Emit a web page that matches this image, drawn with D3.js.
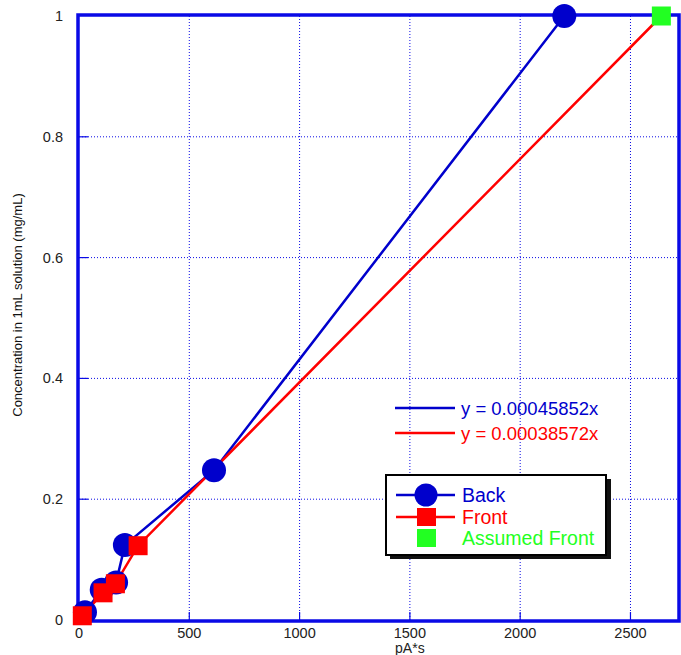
<!DOCTYPE html>
<html>
<head>
<meta charset="utf-8">
<script src="https://cdn.jsdelivr.net/npm/d3@7"></script>
<style>
  body { margin: 0; background: #fff; }
  svg { font-family: "Liberation Sans", Arial, sans-serif; }
</style>
</head>
<body>
<div class="container"></div>
<script>
const width = 681,
    height = 655;

// data
const backX = [2200, 612, 208, 168, 103, 27];
const backY = [1, 0.248, 0.124, 0.062, 0.05, 0.013];
const frontX = [2640, 268, 165, 109, 15];
const frontY = [1, 0.123, 0.06, 0.045, 0.007];
const assumedX = [2640];
const assumedY = [1];
const xTicks = [0, 500, 1000, 1500, 2000, 2500];
const yTicks = [0, 0.2, 0.4, 0.6, 0.8, 1];
const fitLabels = ['y = 0.00045852x', 'y = 0.00038572x'];
const legendLabels = ['Back', 'Front', 'Assumed Front'];

const blue = '#0000cc',
    red = '#ff0000',
    green = '#22ff22',
    axisBlue = '#0a0ae6';

const svg = d3.select('.container')
    .append('svg')
    .attr('width', width)
    .attr('height', height);

const x = d3.scaleLinear().domain([0, 2720]).range([79, 679]);
const y = d3.scaleLinear().domain([0, 1]).range([620, 16]);

// grid
const grid = svg.append('g');
grid.selectAll('line.vx')
    .data(xTicks.filter(d => d > 0))
    .enter().append('line')
    .attr('x1', d => x(d)).attr('x2', d => x(d))
    .attr('y1', y(0)).attr('y2', y(1))
    .attr('stroke', axisBlue)
    .attr('stroke-width', 1)
    .attr('stroke-dasharray', '1,2');
grid.selectAll('line.hy')
    .data(yTicks.filter(d => d > 0 && d < 1))
    .enter().append('line')
    .attr('x1', x(0)).attr('x2', x.range()[1])
    .attr('y1', d => y(d)).attr('y2', d => y(d))
    .attr('stroke', axisBlue)
    .attr('stroke-width', 1)
    .attr('stroke-dasharray', '1,2');

// small inner ticks
grid.selectAll('line.tx')
    .data(xTicks.filter(d => d > 0))
    .enter().append('line')
    .attr('x1', d => x(d)).attr('x2', d => x(d))
    .attr('y1', y(0)).attr('y2', y(0) - 8)
    .attr('stroke', axisBlue).attr('stroke-width', 1.2);
grid.selectAll('line.ty')
    .data(yTicks.filter(d => d > 0 && d < 1))
    .enter().append('line')
    .attr('x1', x(0)).attr('x2', x(0) + 9)
    .attr('y1', d => y(d)).attr('y2', d => y(d))
    .attr('stroke', axisBlue).attr('stroke-width', 1.2);

// frame
svg.append('rect')
    .attr('x', x(0) - 1)
    .attr('y', y(1) - 1)
    .attr('width', x.range()[1] - x(0) + 1)
    .attr('height', y(0) - y(1) + 2)
    .attr('fill', 'none')
    .attr('stroke', axisBlue)
    .attr('stroke-width', 3.5);

// tick labels
svg.append('g').selectAll('text')
    .data(xTicks)
    .enter().append('text')
    .attr('x', d => x(d))
    .attr('y', 638)
    .attr('text-anchor', 'middle')
    .attr('font-size', 14.5)
    .attr('fill', '#222')
    .text(d => d);

svg.append('g').selectAll('text')
    .data(yTicks)
    .enter().append('text')
    .attr('x', 63)
    .attr('y', d => y(d) + 5)
    .attr('text-anchor', 'end')
    .attr('font-size', 14.5)
    .attr('fill', '#222')
    .text(d => d);

svg.append('text')
    .attr('x', x(1500))
    .attr('y', 653)
    .attr('text-anchor', 'middle')
    .attr('font-size', 14)
    .attr('fill', '#222')
    .text('pA*s');

svg.append('text')
    .attr('transform', 'translate(22,305) rotate(-90)')
    .attr('text-anchor', 'middle')
    .attr('font-size', 13)
    .attr('fill', '#111')
    .text('Concentration in 1mL solution (mg/mL)');

// series lines
const line = d3.line().x(d => x(d[0])).y(d => y(d[1]));
const back = backX.map((d, i) => [d, backY[i]]);
const front = frontX.map((d, i) => [d, frontY[i]]);

svg.append('path')
    .datum(back)
    .attr('d', line)
    .attr('fill', 'none')
    .attr('stroke', blue)
    .attr('stroke-width', 2.5);

svg.append('path')
    .datum(front)
    .attr('d', line)
    .attr('fill', 'none')
    .attr('stroke', red)
    .attr('stroke-width', 2.5);

// markers
svg.append('g').selectAll('circle')
    .data(back)
    .enter().append('circle')
    .attr('cx', d => x(d[0]))
    .attr('cy', d => y(d[1]))
    .attr('r', 12)
    .attr('fill', blue);

svg.append('g').selectAll('rect')
    .data(front.slice(1))
    .enter().append('rect')
    .attr('x', d => x(d[0]) - 9.5)
    .attr('y', d => y(d[1]) - 9.5)
    .attr('width', 19)
    .attr('height', 19)
    .attr('fill', red);

svg.append('g').selectAll('rect')
    .data(assumedX.map((d, i) => [d, assumedY[i]]))
    .enter().append('rect')
    .attr('x', d => x(d[0]) - 9.5)
    .attr('y', d => y(d[1]) - 9.5)
    .attr('width', 19)
    .attr('height', 19)
    .attr('fill', green);

// fit legend
const fit = svg.append('g');
fit.selectAll('line')
    .data(fitLabels)
    .enter().append('line')
    .attr('x1', 395).attr('x2', 455)
    .attr('y1', (d, i) => 408 + i * 25)
    .attr('y2', (d, i) => 408 + i * 25)
    .attr('stroke', (d, i) => i ? red : blue)
    .attr('stroke-width', 2.5);
fit.selectAll('text')
    .data(fitLabels)
    .enter().append('text')
    .attr('x', 461)
    .attr('y', (d, i) => 415 + i * 25)
    .attr('font-size', 18.5)
    .attr('fill', (d, i) => i ? red : blue)
    .text(d => d);

// series legend
const legend = svg.append('g').attr('id', 'legend');
legend.append('rect')
    .attr('x', 390).attr('y', 479)
    .attr('width', 221).attr('height', 80)
    .attr('fill', '#111');
legend.append('rect')
    .attr('x', 386).attr('y', 475)
    .attr('width', 220).attr('height', 80)
    .attr('fill', '#fff')
    .attr('stroke', '#000')
    .attr('stroke-width', 2);

const rowY = [495, 517, 538];
legend.append('line')
    .attr('x1', 396).attr('x2', 455)
    .attr('y1', rowY[0]).attr('y2', rowY[0])
    .attr('stroke', blue).attr('stroke-width', 2.5);
legend.append('circle')
    .attr('cx', 426).attr('cy', rowY[0]).attr('r', 11.5)
    .attr('fill', blue);
legend.append('line')
    .attr('x1', 396).attr('x2', 455)
    .attr('y1', rowY[1]).attr('y2', rowY[1])
    .attr('stroke', red).attr('stroke-width', 2.5);
legend.append('rect')
    .attr('x', 417).attr('y', rowY[1] - 9)
    .attr('width', 19).attr('height', 18)
    .attr('fill', red);
legend.append('rect')
    .attr('x', 417).attr('y', rowY[2] - 9)
    .attr('width', 19).attr('height', 18)
    .attr('fill', green);

legend.selectAll('text')
    .data(legendLabels)
    .enter().append('text')
    .attr('x', 462)
    .attr('y', (d, i) => rowY[i] + 7)
    .attr('font-size', 19.5)
    .attr('fill', (d, i) => [blue, red, green][i])
    .text(d => d);
</script>
</body>
</html>
